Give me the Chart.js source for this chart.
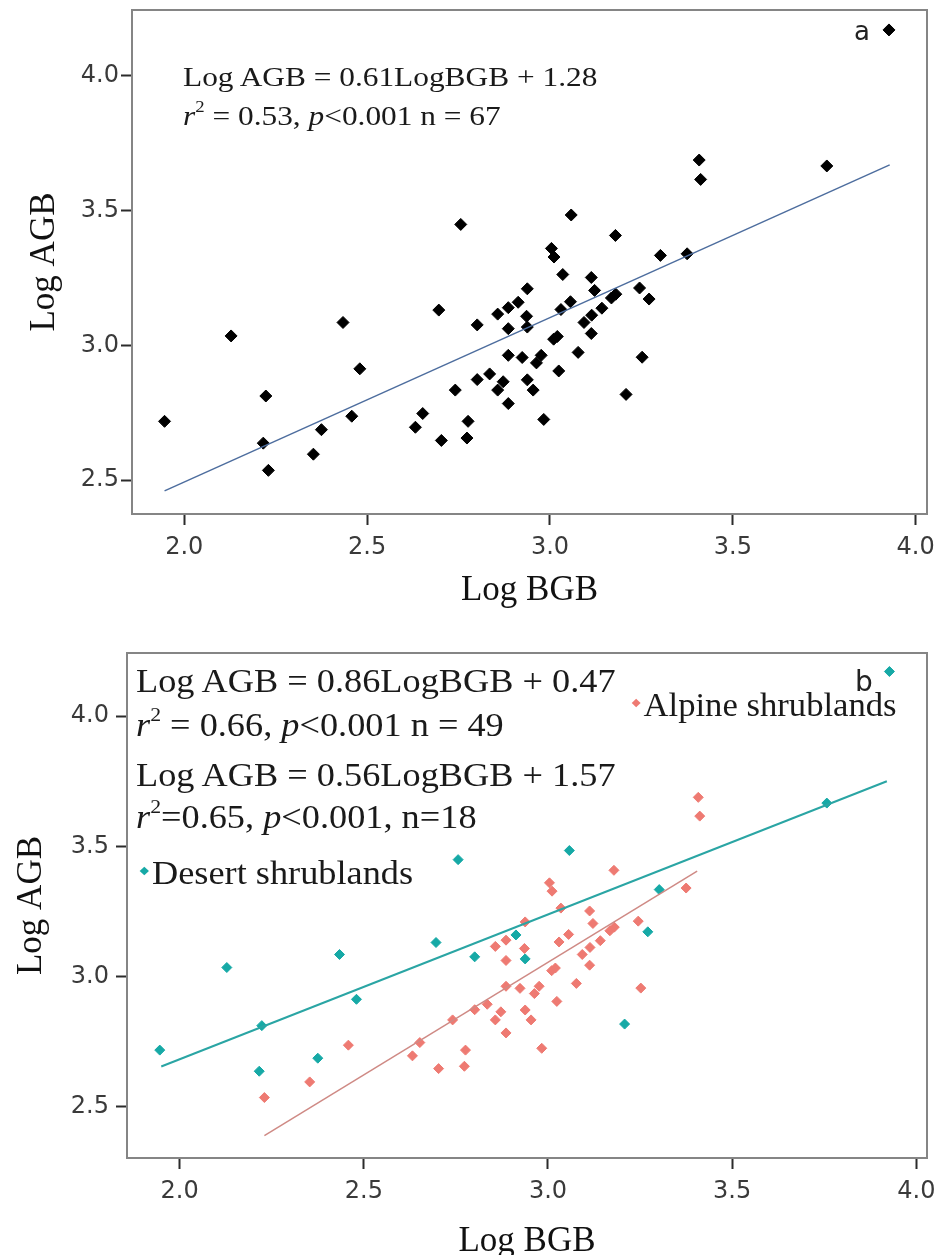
<!DOCTYPE html>
<html lang="en">
<head>
<meta charset="UTF-8">
<title>Log AGB vs Log BGB</title>
<script src="https://cdn.jsdelivr.net/npm/chart.js"></script>
<style>
  body { margin: 0; background: #fff; }
  .page { position: relative; width: 945px; height: 1255px; overflow: hidden; background: #fff; }
  .panel { position: absolute; left: 0; width: 945px; }
  .note {
    position: absolute;
    font-family: 'Liberation Serif', 'Times New Roman', serif;
    color: #1a1a1a;
    line-height: 1;
    white-space: nowrap;
    transform-origin: 0 0;
  }
  .note sup { font-size: 60%; vertical-align: 0.75em; line-height: 0; }
  .tag { position: absolute; font-family: 'DejaVu Sans', Arial, sans-serif; color: #222; line-height: 1; }
  .dot { display: inline-block; width: 6px; height: 6px; transform: rotate(45deg); margin-right: 6px; vertical-align: 0.3em; }
</style>
</head>
<body>
<div class="page">
  <div class="panel" style="top:0;height:620px"><canvas id="chartA" width="945" height="620"></canvas></div>
  <div class="panel" style="top:630px;height:645px"><canvas id="chartB" width="945" height="645"></canvas></div>

  <div class="note" style="left:183px;top:63px;font-size:28px;transform:scaleX(1.12)">Log AGB = 0.61LogBGB + 1.28</div>
  <div class="note" style="left:183px;top:102px;font-size:28px;transform:scaleX(1.12)"><i>r</i><sup>2</sup> = 0.53, <i>p</i>&lt;0.001 n = 67</div>
  <div class="tag" style="left:854px;top:18px;font-size:26px">a</div>

  <div class="note" style="left:136px;top:665px;font-size:33px;transform:scaleX(1.1)">Log AGB = 0.86LogBGB + 0.47</div>
  <div class="note" style="left:136px;top:709px;font-size:33px;transform:scaleX(1.1)"><i>r</i><sup>2</sup> = 0.66, <i>p</i>&lt;0.001 n = 49</div>
  <div class="note" style="left:136px;top:759px;font-size:33px;transform:scaleX(1.1)">Log AGB = 0.56LogBGB + 1.57</div>
  <div class="note" style="left:136px;top:801px;font-size:33px;transform:scaleX(1.1)"><i>r</i><sup>2</sup>=0.65, <i>p</i>&lt;0.001, n=18</div>
  <div class="note" style="left:141px;top:857px;font-size:33px;transform:scaleX(1.1)"><span class="dot" style="background:#16a9a6;margin-right:4px"></span>Desert shrublands</div>
  <div class="note" style="left:633px;top:689px;font-size:33px;transform:scaleX(1.05)"><span class="dot" style="background:#ee7a72;margin-right:4px"></span>Alpine shrublands</div>
  <div class="tag" style="left:855px;top:668px;font-size:28px">b</div>
</div>

<script>
// Desert shrublands (n = 18)
const desertBGB = [1.946, 2.128, 2.223, 2.216, 2.375, 2.434, 2.480, 2.696, 2.756,
                   2.801, 2.913, 2.938, 3.058, 3.302, 3.271, 3.208, 3.757, 3.927];
const desertAGB = [2.718, 3.035, 2.812, 2.637, 2.687, 3.085, 2.913, 3.131, 3.449,
                   3.076, 3.160, 3.068, 3.484, 3.334, 3.172, 2.818, 3.666, 4.171];

// Alpine shrublands (n = 49)
const alpineBGB = [2.230, 2.353, 2.458, 2.632, 2.652, 2.703, 2.741, 2.773, 2.776, 2.801,
                   2.835, 2.857, 2.886, 2.938, 2.936, 2.886, 2.886, 2.924, 2.963, 2.976,
                   3.004, 3.011, 3.035, 3.030, 3.010, 3.020, 3.024, 2.872, 2.857, 2.938,
                   2.954, 2.886, 2.983, 3.179, 3.375, 3.113, 3.122, 3.168, 3.180, 3.245,
                   3.056, 3.142, 3.114, 3.093, 3.113, 3.077, 3.252, 3.408, 3.412];
const alpineAGB = [2.536, 2.596, 2.737, 2.696, 2.747, 2.647, 2.834, 2.656, 2.718, 2.873,
                   2.894, 3.116, 3.140, 3.210, 3.108, 3.062, 2.963, 2.955, 2.935, 2.963,
                   3.360, 3.328, 3.263, 3.133, 3.023, 3.033, 2.905, 2.865, 2.834, 2.872,
                   2.834, 2.784, 2.725, 3.408, 3.340, 3.252, 3.204, 3.176, 3.190, 3.213,
                   3.162, 3.138, 3.112, 3.085, 3.044, 2.974, 2.956, 3.688, 3.616];

// fitted lines, end points
const fitAllBGB = [1.946, 3.929];
const fitAllAGB = [2.46, 3.67];
const fitDesertBGB = [1.95, 3.92];
const fitDesertAGB = [2.655, 3.75];
const fitAlpineBGB = [2.23, 3.405];
const fitAlpineAGB = [2.39, 3.405];

const xTickValues = [2.0, 2.5, 3.0, 3.5, 4.0];
const yTickValues = [2.5, 3.0, 3.5, 4.0];

const toPoints = (xs, ys) => xs.map((x, i) => ({ x: x, y: ys[i] }));

const frame = {
    id: 'frame',
    beforeDatasetsDraw(chart) {
        const { ctx, chartArea: a } = chart;
        ctx.save();
        ctx.strokeStyle = '#858585';
        ctx.lineWidth = 2;
        ctx.strokeRect(a.left, a.top, a.right - a.left, a.bottom - a.top);
        ctx.restore();
    }
};

// no extra room for half tick labels, the layout is fixed by hand
function noPad(s) {
    s.paddingTop = 0;
    s.paddingBottom = 0;
    s.paddingLeft = 0;
    s.paddingRight = 0;
}

function makeOptions(o) {
    const tickFont = { family: 'DejaVu Sans', size: 24 };
    const titleFont = { family: 'Liberation Serif', size: 35 };
    return {
        responsive: false,
        animation: false,
        layout: { padding: { top: o.padTop, right: 18, left: 0, bottom: 0 } },
        plugins: { legend: { display: false }, tooltip: { enabled: false } },
        scales: {
            x: {
                type: 'linear',
                min: o.xMin, max: o.xMax,
                afterBuildTicks: s => { s.ticks = xTickValues.map(v => ({ value: v })); },
                afterFit: s => { s.height = o.xHeight; noPad(s); },
                grid: { drawOnChartArea: false, drawTicks: true, tickLength: 11, tickWidth: 2, tickColor: '#2b2b2b' },
                border: { display: false },
                ticks: { font: tickFont, color: '#3a3a3a', padding: 8, maxRotation: 0, autoSkip: false,
                         callback: v => v.toFixed(1) },
                title: { display: true, text: 'Log BGB', font: titleFont, color: '#111',
                         padding: { top: 0, bottom: o.xTitlePad } }
            },
            y: {
                type: 'linear',
                min: o.yMin, max: o.yMax,
                afterBuildTicks: s => { s.ticks = yTickValues.map(v => ({ value: v })); },
                afterFit: s => { s.width = o.yWidth; noPad(s); },
                grid: { drawOnChartArea: false, drawTicks: true, tickLength: 11, tickWidth: 2, tickColor: '#2b2b2b' },
                border: { display: false },
                ticks: { font: tickFont, color: '#3a3a3a', padding: o.yTickPad,
                         callback: v => v.toFixed(1) },
                title: { display: true, text: 'Log AGB', font: titleFont, color: '#111',
                         padding: { top: o.yTitlePad, bottom: 0 } }
            }
        }
    };
}

// panel a: all shrublands
new Chart(document.getElementById('chartA'), {
    type: 'scatter',
    data: {
        datasets: [
            {
                label: 'fit',
                data: toPoints(fitAllBGB, fitAllAGB),
                showLine: true,
                borderColor: '#4d6d9e',
                borderWidth: 1.5,
                pointRadius: 0
            },
            {
                label: 'All shrublands',
                data: toPoints(desertBGB.concat(alpineBGB), desertAGB.concat(alpineAGB)),
                pointStyle: 'rectRot',
                pointRadius: 6,
                backgroundColor: '#000',
                borderColor: '#000',
                borderWidth: 1
            }
        ]
    },
    options: makeOptions({ padTop: 10, xMin: 1.857, xMax: 4.031, yMin: 2.374, yMax: 4.245,
                           xHeight: 106, yWidth: 132, xTitlePad: 8, yTitlePad: 24, yTickPad: 2 }),
    plugins: [frame]
});

// panel b: desert vs alpine
new Chart(document.getElementById('chartB'), {
    type: 'scatter',
    data: {
        datasets: [
            {
                label: 'Desert fit',
                data: toPoints(fitDesertBGB, fitDesertAGB),
                showLine: true,
                borderColor: '#2aa5a4',
                borderWidth: 2,
                pointRadius: 0
            },
            {
                label: 'Alpine fit',
                data: toPoints(fitAlpineBGB, fitAlpineAGB),
                showLine: true,
                borderColor: '#cf8a85',
                borderWidth: 1.5,
                pointRadius: 0
            },
            {
                label: 'Desert shrublands',
                data: toPoints(desertBGB, desertAGB),
                pointStyle: 'rectRot',
                pointRadius: 5,
                backgroundColor: '#16a9a6',
                borderColor: '#16a9a6',
                borderWidth: 1
            },
            {
                label: 'Alpine shrublands',
                data: toPoints(alpineBGB, alpineAGB),
                pointStyle: 'rectRot',
                pointRadius: 5,
                backgroundColor: '#ee7a72',
                borderColor: '#ee7a72',
                borderWidth: 1
            }
        ]
    },
    options: makeOptions({ padTop: 23, xMin: 1.857, xMax: 4.029, yMin: 2.304, yMax: 4.242,
                           xHeight: 117, yWidth: 127, xTitlePad: 12, yTitlePad: 11, yTickPad: 7 }),
    plugins: [frame]
});
</script>
</body>
</html>
